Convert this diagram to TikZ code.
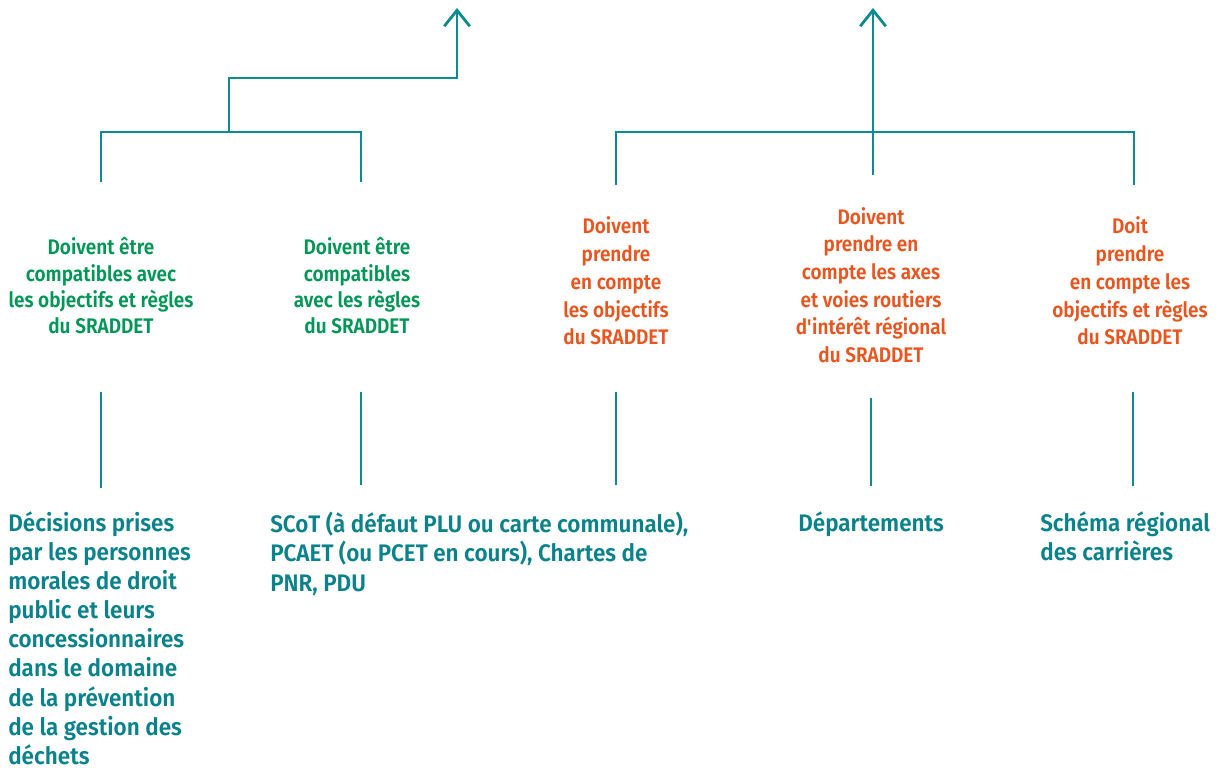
\documentclass[tikz,border=0pt]{standalone}
\usepackage{fontspec}
\setmainfont{Fira Sans}[UprightFont=* SemiBold, FakeStretch=0.9]
\newfontfamily\targetfont{Fira Sans}[UprightFont=* SemiBold, FakeStretch=0.94]
\usepackage{tikz}
\usetikzlibrary{arrows.meta,calc}
\usepackage{xcolor}
\definecolor{lineteal}{RGB}{13,139,149}
\definecolor{textteal}{RGB}{10,130,140}
\definecolor{textgreen}{RGB}{0,150,85}
\definecolor{textorange}{RGB}{232,85,30}

\begin{document}
\begin{tikzpicture}[x=0.025cm, y=-0.025cm, line/.style={draw=lineteal, line width=2pt}, arrow/.style={line, -{Straight Barb[length=4mm, width=6.4mm, line width=2pt]}}, green node/.style={align=center, inner sep=0, text=textgreen, font=\fontsize{15}{18.7}\selectfont}, orange node/.style={align=center, inner sep=0, text=textorange, font=\fontsize{15}{19.7}\selectfont}, target node/.style={align=left, anchor=north west, inner sep=0, text=textteal, font=\targetfont\fontsize{17}{20.75}\selectfont}]
\useasboundingbox (0,0) rectangle (1225,771);
% labels
\node[green node] (g1) at (101,286) {Doivent être\\compatibles avec\\les objectifs et règles\\du SRADDET};
\node[green node] (g2) at (357,286) {Doivent être\\compatibles\\avec les règles\\du SRADDET};
\node[orange node] (o1) at (616,281) {Doivent\\prendre\\en compte\\les objectifs\\du SRADDET};
\node[orange node] (o2) at (871,285) {Doivent\\prendre en\\compte les axes\\et voies routiers\\d\textquotesingle intérêt régional\\du SRADDET};
\node[orange node] (o3) at (1130,281) {Doit\\prendre\\en compte les\\objectifs et règles\\du SRADDET};
% targets
\node[target node] (d1) at (8,511) {Décisions prises\\par les personnes\\morales de droit\\public et leurs\\concessionnaires\\dans le domaine\\de la prévention\\de la gestion des\\déchets};
\node[target node] (d2) at (270,512) {SCoT (à défaut PLU ou carte communale),\\PCAET (ou PCET en cours), Chartes de\\PNR, PDU};
\node[target node] (d3) at (798,511) {Départements};
\node[target node] (d4) at (1040,511) {Schéma régional\\des carrières};
% end points
\coordinate (a1) at (457,8);
\coordinate (a2) at (873,8);
\coordinate (m1) at (229,132);
\coordinate (m2) at (873,175);
\coordinate (l1) at (101,182);
\coordinate (l2) at (361,182);
\coordinate (r1) at (616,185);
\coordinate (r2) at (1134,185);
\foreach \n/\x/\a/\b in {1/101/392/488, 2/361/392/485, 3/616/392/485, 4/871/398/486, 5/1133/392/486}{
  \coordinate (u\n) at (\x,\a);
  \coordinate (v\n) at (\x,\b);
  \draw[line] (u\n) -- (v\n);
}
\draw[line] (l1) -- ++(0,-50) -| (l2);
\draw[line] (r1) -- ++(0,-53) -| (r2);
\draw[arrow] (m1) -- ++(0,-54) -| (a1);
\draw[arrow] (m2) -- (a2);
\end{tikzpicture}
\end{document}
